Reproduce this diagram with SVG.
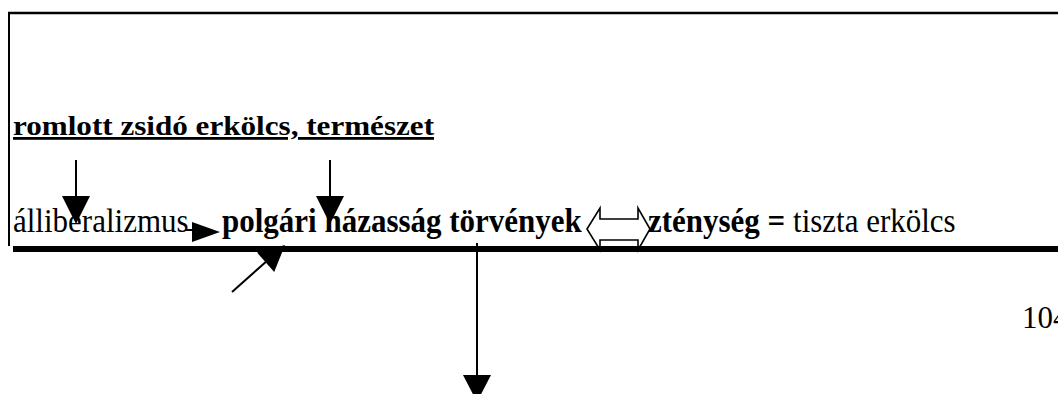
<svg xmlns="http://www.w3.org/2000/svg" width="1058" height="394" viewBox="0 0 1058 394">
<style>
.t{font-family:"Liberation Serif","Times New Roman",serif;fill:#000}
.b{font-weight:bold}
.ln{stroke:#000;stroke-width:2;fill:none}
.head{fill:#000;stroke:none}
</style>
<rect width="1058" height="394" fill="#fff"/>
<g id="frame">
<line x1="8" y1="13" x2="1058" y2="13" stroke="#000" stroke-width="2.4"/>
<line x1="9" y1="12" x2="9" y2="246" stroke="#000" stroke-width="2"/>
</g>
<g id="node-romlott">
<text class="t b" x="13" y="135" font-size="28" textLength="421" lengthAdjust="spacingAndGlyphs" text-decoration="underline">romlott zsidó erkölcs, természet</text>
</g>
<g id="node-line2" transform="translate(0,232) scale(1,1.1) translate(0,-232)">
<text class="t" x="13" y="232" font-size="31">álliberalizmus</text>
<text class="t b" x="222" y="232" font-size="31">polgári házasság törvények</text>
<text class="t" x="648" y="232" font-size="31"><tspan class="b">zténység =</tspan> tiszta erkölcs</text>
</g>
<g id="node-page">
<text class="t" x="1022" y="328" font-size="31">104</text>
</g>
<g id="connectors">
<line class="ln" x1="76" y1="160" x2="76" y2="198"/>
<polygon class="head" points="62,196 90,196 76,224"/>
<line class="ln" x1="330" y1="160" x2="330" y2="198"/>
<polygon class="head" points="316,196 344,196 330,224"/>
<line class="ln" x1="186" y1="230" x2="196" y2="230"/>
<polygon class="head" points="192,222 192,242 220,232"/>
<polygon fill="#fff" stroke="#000" stroke-width="1.6" points="587,229 600,208 600,219 638,219 638,208 650,229 638,250 638,240 600,240 600,250"/>
<line class="ln" x1="232" y1="292" x2="268" y2="260"/>
<polygon class="head" points="285,245 257,252.5 274.2,272"/>
<line class="ln" x1="477" y1="243" x2="477" y2="378"/>
<polygon class="head" points="463,375 491,375 477,402"/>
</g>
<g id="shadow-line">
<rect x="13" y="246" width="1045" height="6" fill="#000"/>
</g>
</svg>
